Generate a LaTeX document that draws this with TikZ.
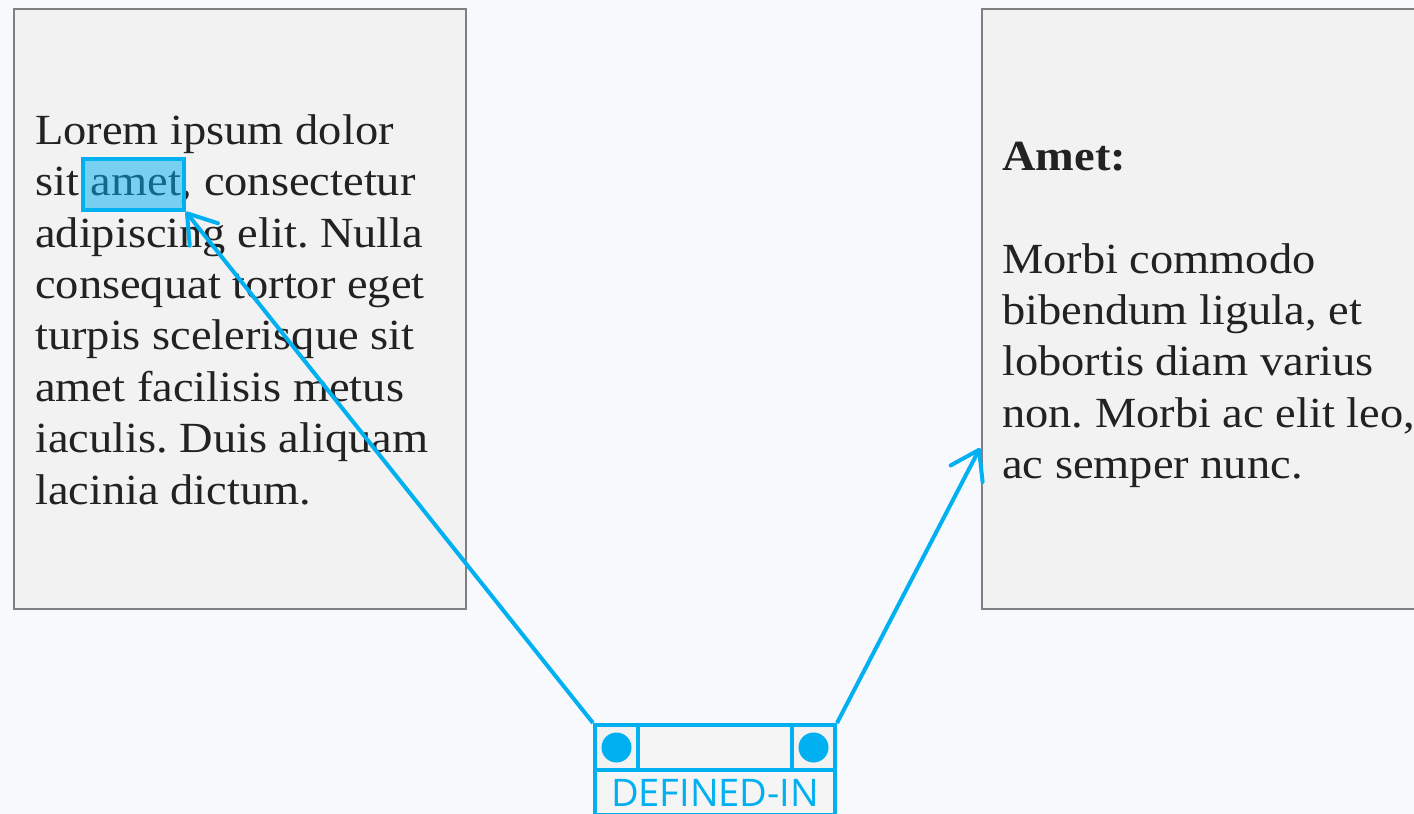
\documentclass[tikz,border=0pt]{standalone}
\usepackage{fontspec}
\setmainfont{Liberation Serif}[FakeStretch=1.08]
\newfontfamily\labelfont{Open Sans}
\usetikzlibrary{arrows.meta}
\definecolor{bg}{HTML}{F8F9FC}
\definecolor{boxfill}{HTML}{F2F2F2}
\definecolor{boxline}{HTML}{808080}
\definecolor{accent}{HTML}{00B0F0}
\definecolor{cellfill}{HTML}{F5F5F5}
\definecolor{textc}{HTML}{222222}
\tikzset{
  panel/.style={draw=boxline, line width=2pt, fill=boxfill, anchor=north west, inner sep=0pt},
  bodytext/.style={anchor=north west, inner sep=0pt, align=left, text=textc,
    font=\fontsize{43}{51.4}\selectfont\frenchspacing},
  link/.style={draw=accent, line width=4pt,
    -{Straight Barb[length=27pt,width=36pt,line cap=round,line join=round]}},
  cell/.style={draw=accent, line width=4pt, fill=cellfill, inner sep=0pt, anchor=north west},
  dot/.style={circle, fill=accent, minimum size=30pt, inner sep=0pt},
  hilite/.style={draw=accent, line width=3.5pt, fill=accent, fill opacity=0.5, draw opacity=1,
    inner sep=0pt, minimum width=101pt, minimum height=51pt},
}
\begin{document}
\begin{tikzpicture}[x=1pt,y=-1pt]
\fill[bg] (0,0) rectangle (1414,814);
\useasboundingbox (0,0) rectangle (1414,814);
% panels
\node[panel, minimum width=452pt, minimum height=600pt] (left) at (13,8) {};
\node[panel, minimum width=460pt, minimum height=600pt] (right) at (981,8) {};
% texts
\node[bodytext] (lefttext) at (35,104) {\rule{0pt}{40pt}Lorem ipsum dolor\\
sit amet, consectetur\\
adipiscing elit. Nulla\\
consequat tortor eget\\
turpis scelerisque sit\\
amet facilisis metus\\
iaculis. Duis aliquam\\
lacinia dictum.};
\node[bodytext] (righttext) at (1002,130) {\rule{0pt}{40pt}\textbf{Amet:}\\[51.4pt]
Morbi commodo\\
bibendum ligula, et\\
lobortis diam varius\\
non. Morbi ac elit leo,\\
ac semper nunc.};
% highlight
\node[hilite] (hl) at (133.5,184.5) {};
\coordinate (rtarget) at (980,448);
% relation node
\node[cell, minimum width=240pt, minimum height=45pt] (reltop) at (593,723) {};
\node[cell, fill=boxfill, minimum width=43pt, minimum height=45pt] (relL) at (593,723) {};
\node[cell, fill=boxfill, minimum width=43pt, minimum height=45pt] (relR) at (790,723) {};
\node[dot] (dotL) at (relL.center) {};
\node[dot] (dotR) at (relR.center) {};
\node[cell, minimum width=240pt, minimum height=45pt, text=accent,
  font=\labelfont\fontsize{38}{40}\selectfont] (relname) at (593,768) {DEFINED-IN};
% links
\draw[link] (reltop.north west) -- (hl.south east);
\draw[link] (reltop.north east) -- (rtarget);
\end{tikzpicture}
\end{document}
